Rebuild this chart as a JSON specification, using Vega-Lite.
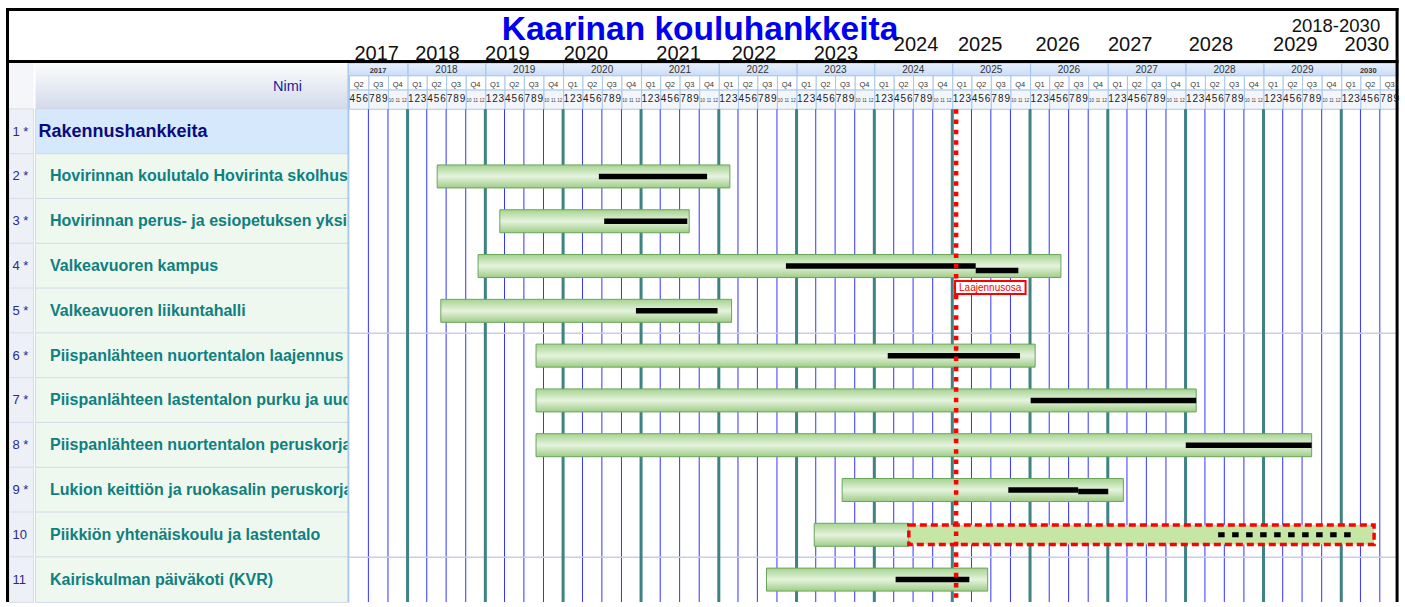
{
  "$schema": "https://vega.github.io/schema/vega-lite/v6.json",
  "background": "white",
  "padding": 0,
  "spacing": 0,
  "bounds": "flush",
  "config": {
    "view": {"stroke": null},
    "concat": {"spacing": 0},
    "axis": {"disable": true},
    "legend": {"disable": true},
    "font": "Liberation Sans",
    "text": {"font": "Liberation Sans"}
  },
  "datasets": {
    "one": [{}],
    "rows": [
      {"row": 1, "num": "1 *", "level": 0, "name": "Rakennushankkeita"},
      {"row": 2, "num": "2 *", "level": 1, "name": "Hovirinnan koulutalo Hovirinta skolhus"},
      {"row": 3, "num": "3 *", "level": 1, "name": "Hovirinnan perus- ja esiopetuksen yksikkö"},
      {"row": 4, "num": "4 *", "level": 1, "name": "Valkeavuoren kampus"},
      {"row": 5, "num": "5 *", "level": 1, "name": "Valkeavuoren liikuntahalli"},
      {"row": 6, "num": "6 *", "level": 1, "name": "Piispanlähteen nuortentalon laajennus"},
      {"row": 7, "num": "7 *", "level": 1, "name": "Piispanlähteen lastentalon purku ja uudisrakennus"},
      {"row": 8, "num": "8 *", "level": 1, "name": "Piispanlähteen nuortentalon peruskorjaus"},
      {"row": 9, "num": "9 *", "level": 1, "name": "Lukion keittiön ja ruokasalin peruskorjaus"},
      {"row": 10, "num": "10", "level": 1, "name": "Piikkiön yhtenäiskoulu ja lastentalo"},
      {"row": 11, "num": "11", "level": 1, "name": "Kairiskulman päiväkoti (KVR)"}
    ],
    "tasks": [
      {"row": 2, "kind": "plan", "start": "2018-05-20", "end": "2022-02-22"},
      {"row": 3, "kind": "plan", "start": "2019-03-10", "end": "2021-08-15"},
      {"row": 4, "kind": "plan", "start": "2018-11-28", "end": "2026-05-26"},
      {"row": 5, "kind": "plan", "start": "2018-06-06", "end": "2022-03-02"},
      {"row": 6, "kind": "plan", "start": "2019-08-27", "end": "2026-01-25"},
      {"row": 7, "kind": "plan", "start": "2019-08-27", "end": "2028-02-20"},
      {"row": 8, "kind": "plan", "start": "2019-08-27", "end": "2029-08-15"},
      {"row": 9, "kind": "plan", "start": "2023-08-03", "end": "2027-03-15"},
      {"row": 10, "kind": "plan", "start": "2023-03-25", "end": "2024-06-11"},
      {"row": 10, "kind": "extension", "start": "2024-06-11", "end": "2030-06-04"},
      {"row": 11, "kind": "plan", "start": "2022-08-13", "end": "2025-06-16"},
      {"row": 2, "kind": "progress", "start": "2020-06-17", "end": "2021-11-07"},
      {"row": 3, "kind": "progress", "start": "2020-07-12", "end": "2021-08-06"},
      {"row": 4, "kind": "progress", "start": "2022-11-12", "end": "2025-04-21"},
      {"row": 4, "kind": "progress2", "start": "2025-04-21", "end": "2025-11-07"},
      {"row": 5, "kind": "progress", "start": "2020-12-08", "end": "2021-12-26"},
      {"row": 6, "kind": "progress", "start": "2024-03-04", "end": "2025-11-15"},
      {"row": 7, "kind": "progress", "start": "2026-01-04", "end": "2028-02-20"},
      {"row": 8, "kind": "progress", "start": "2028-01-02", "end": "2029-08-15"},
      {"row": 9, "kind": "progress", "start": "2025-09-21", "end": "2026-08-15"},
      {"row": 9, "kind": "progress2", "start": "2026-08-15", "end": "2027-01-03"},
      {"row": 10, "kind": "dashed", "start": "2028-06-02", "end": "2030-02-20"},
      {"row": 11, "kind": "progress", "start": "2024-04-10", "end": "2025-03-22"}
    ],
    "notes": [
      {"row": 4, "label": "Laajennusosa", "start": "2025-01-14", "end": "2025-12-11"}
    ],
    "today": [{"date": "2025-01-19"}],
    "toplabels": [
      {"label": "2017", "date": "2017-08-09"},
      {"label": "2018", "date": "2018-05-21"},
      {"label": "2019", "date": "2019-04-14"},
      {"label": "2020", "date": "2020-04-17"},
      {"label": "2021", "date": "2021-06-26"},
      {"label": "2022", "date": "2022-06-15"},
      {"label": "2023", "date": "2023-07-05"},
      {"label": "2024", "date": "2024-07-15"},
      {"label": "2025", "date": "2025-05-12"},
      {"label": "2026", "date": "2026-05-11"},
      {"label": "2027", "date": "2027-04-16"},
      {"label": "2028", "date": "2028-04-29"},
      {"label": "2029", "date": "2029-05-30"},
      {"label": "2030", "date": "2030-05-01"}
    ],
    "months": [
      {"m": "2017-04-01"}, {"m": "2017-05-01"}, {"m": "2017-06-01"}, {"m": "2017-07-01"}, {"m": "2017-08-01"}, {"m": "2017-09-01"}, {"m": "2017-10-01"}, {"m": "2017-11-01"}, {"m": "2017-12-01"},
      {"m": "2018-01-01"}, {"m": "2018-02-01"}, {"m": "2018-03-01"}, {"m": "2018-04-01"}, {"m": "2018-05-01"}, {"m": "2018-06-01"}, {"m": "2018-07-01"}, {"m": "2018-08-01"}, {"m": "2018-09-01"}, {"m": "2018-10-01"}, {"m": "2018-11-01"}, {"m": "2018-12-01"},
      {"m": "2019-01-01"}, {"m": "2019-02-01"}, {"m": "2019-03-01"}, {"m": "2019-04-01"}, {"m": "2019-05-01"}, {"m": "2019-06-01"}, {"m": "2019-07-01"}, {"m": "2019-08-01"}, {"m": "2019-09-01"}, {"m": "2019-10-01"}, {"m": "2019-11-01"}, {"m": "2019-12-01"},
      {"m": "2020-01-01"}, {"m": "2020-02-01"}, {"m": "2020-03-01"}, {"m": "2020-04-01"}, {"m": "2020-05-01"}, {"m": "2020-06-01"}, {"m": "2020-07-01"}, {"m": "2020-08-01"}, {"m": "2020-09-01"}, {"m": "2020-10-01"}, {"m": "2020-11-01"}, {"m": "2020-12-01"},
      {"m": "2021-01-01"}, {"m": "2021-02-01"}, {"m": "2021-03-01"}, {"m": "2021-04-01"}, {"m": "2021-05-01"}, {"m": "2021-06-01"}, {"m": "2021-07-01"}, {"m": "2021-08-01"}, {"m": "2021-09-01"}, {"m": "2021-10-01"}, {"m": "2021-11-01"}, {"m": "2021-12-01"},
      {"m": "2022-01-01"}, {"m": "2022-02-01"}, {"m": "2022-03-01"}, {"m": "2022-04-01"}, {"m": "2022-05-01"}, {"m": "2022-06-01"}, {"m": "2022-07-01"}, {"m": "2022-08-01"}, {"m": "2022-09-01"}, {"m": "2022-10-01"}, {"m": "2022-11-01"}, {"m": "2022-12-01"},
      {"m": "2023-01-01"}, {"m": "2023-02-01"}, {"m": "2023-03-01"}, {"m": "2023-04-01"}, {"m": "2023-05-01"}, {"m": "2023-06-01"}, {"m": "2023-07-01"}, {"m": "2023-08-01"}, {"m": "2023-09-01"}, {"m": "2023-10-01"}, {"m": "2023-11-01"}, {"m": "2023-12-01"},
      {"m": "2024-01-01"}, {"m": "2024-02-01"}, {"m": "2024-03-01"}, {"m": "2024-04-01"}, {"m": "2024-05-01"}, {"m": "2024-06-01"}, {"m": "2024-07-01"}, {"m": "2024-08-01"}, {"m": "2024-09-01"}, {"m": "2024-10-01"}, {"m": "2024-11-01"}, {"m": "2024-12-01"},
      {"m": "2025-01-01"}, {"m": "2025-02-01"}, {"m": "2025-03-01"}, {"m": "2025-04-01"}, {"m": "2025-05-01"}, {"m": "2025-06-01"}, {"m": "2025-07-01"}, {"m": "2025-08-01"}, {"m": "2025-09-01"}, {"m": "2025-10-01"}, {"m": "2025-11-01"}, {"m": "2025-12-01"},
      {"m": "2026-01-01"}, {"m": "2026-02-01"}, {"m": "2026-03-01"}, {"m": "2026-04-01"}, {"m": "2026-05-01"}, {"m": "2026-06-01"}, {"m": "2026-07-01"}, {"m": "2026-08-01"}, {"m": "2026-09-01"}, {"m": "2026-10-01"}, {"m": "2026-11-01"}, {"m": "2026-12-01"},
      {"m": "2027-01-01"}, {"m": "2027-02-01"}, {"m": "2027-03-01"}, {"m": "2027-04-01"}, {"m": "2027-05-01"}, {"m": "2027-06-01"}, {"m": "2027-07-01"}, {"m": "2027-08-01"}, {"m": "2027-09-01"}, {"m": "2027-10-01"}, {"m": "2027-11-01"}, {"m": "2027-12-01"},
      {"m": "2028-01-01"}, {"m": "2028-02-01"}, {"m": "2028-03-01"}, {"m": "2028-04-01"}, {"m": "2028-05-01"}, {"m": "2028-06-01"}, {"m": "2028-07-01"}, {"m": "2028-08-01"}, {"m": "2028-09-01"}, {"m": "2028-10-01"}, {"m": "2028-11-01"}, {"m": "2028-12-01"},
      {"m": "2029-01-01"}, {"m": "2029-02-01"}, {"m": "2029-03-01"}, {"m": "2029-04-01"}, {"m": "2029-05-01"}, {"m": "2029-06-01"}, {"m": "2029-07-01"}, {"m": "2029-08-01"}, {"m": "2029-09-01"}, {"m": "2029-10-01"}, {"m": "2029-11-01"}, {"m": "2029-12-01"},
      {"m": "2030-01-01"}, {"m": "2030-02-01"}, {"m": "2030-03-01"}, {"m": "2030-04-01"}, {"m": "2030-05-01"}, {"m": "2030-06-01"}, {"m": "2030-07-01"}, {"m": "2030-08-01"}, {"m": "2030-09-01"}
    ]
  },
  "hconcat": [
    {
      "width": 349,
      "height": 607,
      "layer": [
        {
          "data": {"name": "one"},
          "mark": {"type": "rect", "fill": "#f4f6fa"},
          "encoding": {
            "x": {"datum": 9, "type": "quantitative", "scale": {"domain": [0, 349], "nice": false, "zero": false}, "axis": null},
            "x2": {"datum": 33.5},
            "y": {"datum": -0.5319, "type": "quantitative", "scale": {"domain": [-1.8274, 11.5], "reverse": true, "nice": false, "zero": false}, "axis": null},
            "y2": {"datum": 0.5}
          }
        },
        {
          "data": {"name": "one"},
          "mark": {"type": "rect", "fill": {"gradient": "linear", "x1": 0, "y1": 0, "x2": 0, "y2": 1, "stops": [{"offset": 0, "color": "#fcfdfe"}, {"offset": 1, "color": "#d2d9e8"}]}},
          "encoding": {"x": {"datum": 35.5}, "x2": {"datum": 349}, "y": {"datum": -0.5319}, "y2": {"datum": 0.5}}
        },
        {
          "data": {"name": "one"},
          "mark": {"type": "text", "text": "Nimi", "fontSize": 14.5, "color": "#1c1c9c", "align": "center", "baseline": "alphabetic"},
          "encoding": {"x": {"datum": 287.5}, "y": {"datum": 0.0894}}
        },
        {
          "data": {"name": "rows"},
          "mark": {"type": "bar", "orient": "horizontal", "height": 45.55, "fill": "#edf0f7", "stroke": "#d9dcea", "strokeWidth": 1},
          "encoding": {"x": {"datum": 9}, "x2": {"datum": 33.5}, "y": {"field": "row", "type": "quantitative"}}
        },
        {
          "data": {"name": "rows"},
          "mark": {"type": "bar", "orient": "horizontal", "height": 45.55, "stroke": "#d4d8ea", "strokeWidth": 1},
          "encoding": {
            "x": {"datum": 35.5},
            "x2": {"datum": 349},
            "y": {"field": "row", "type": "quantitative"},
            "fill": {"condition": {"test": "datum.level == 0", "value": "#d6e9fc"}, "value": "#eef8ee"}
          }
        },
        {
          "data": {"name": "rows"},
          "mark": {"type": "text", "align": "left", "baseline": "middle", "fontSize": 13, "color": "#2a2a8c"},
          "encoding": {"x": {"datum": 12.5}, "y": {"field": "row", "type": "quantitative"}, "text": {"field": "num"}}
        },
        {
          "data": {"name": "rows"},
          "transform": [{"filter": "datum.level == 1"}],
          "mark": {"type": "text", "align": "left", "baseline": "middle", "fontSize": 16, "fontWeight": "bold", "color": "#0f7f7f", "clip": true},
          "encoding": {"x": {"datum": 50}, "y": {"field": "row", "type": "quantitative"}, "text": {"field": "name"}}
        },
        {
          "data": {"name": "rows"},
          "transform": [{"filter": "datum.level == 0"}],
          "mark": {"type": "text", "align": "left", "baseline": "middle", "fontSize": 18, "fontWeight": "bold", "color": "#0b0b7e", "clip": true},
          "encoding": {"x": {"datum": 38.5}, "y": {"field": "row", "type": "quantitative"}, "text": {"field": "name"}}
        },
        {
          "data": {"name": "one"},
          "mark": {"type": "rule", "color": "#a6c8ef", "strokeWidth": 1.5},
          "encoding": {"x": {"datum": 348.2}, "y": {"datum": -0.5319}, "y2": {"datum": 11.5}}
        },
        {
          "data": {"name": "one"},
          "mark": {"type": "rule", "color": "#000000", "strokeWidth": 3},
          "encoding": {"x": {"datum": 7.5}, "y": {"datum": -1.7615}, "y2": {"datum": 11.5}}
        },
        {
          "data": {"name": "one"},
          "mark": {"type": "rule", "color": "#000000", "strokeWidth": 3},
          "encoding": {"x": {"datum": 6}, "x2": {"datum": 349}, "y": {"datum": -1.7286}}
        },
        {
          "data": {"name": "one"},
          "mark": {"type": "rule", "color": "#000000", "strokeWidth": 3},
          "encoding": {"x": {"datum": 6}, "x2": {"datum": 349}, "y": {"datum": -0.5649}}
        }
      ]
    },
    {
      "width": 1050,
      "height": 607,
      "layer": [
        {
          "data": {"name": "months"},
          "transform": [{"filter": "utcmonth(toDate(datum.m)) == 0 || (utcyear(toDate(datum.m)) == 2017 && utcmonth(toDate(datum.m)) == 3)"}],
          "mark": {"type": "rect", "clip": true, "stroke": "#a3c4ee", "strokeWidth": 1, "fill": {"gradient": "linear", "x1": 0, "y1": 0, "x2": 0, "y2": 1, "stops": [{"offset": 0, "color": "#e8f1fd"}, {"offset": 1, "color": "#cadcf6"}]}},
          "encoding": {
            "x": {"field": "m", "timeUnit": "utcyear", "type": "temporal", "scale": {"type": "utc", "domain": [{"year": 2017, "month": 4, "date": 1, "utc": true}, {"year": 2030, "month": 9, "date": 29, "utc": true}], "nice": false}, "axis": null},
            "y": {"datum": -0.5319, "type": "quantitative", "scale": {"domain": [-1.8274, 11.5], "reverse": true, "nice": false, "zero": false}, "axis": null},
            "y2": {"datum": -0.2465}
          }
        },
        {
          "data": {"name": "months"},
          "transform": [{"filter": "utcmonth(toDate(datum.m)) % 3 == 0"}],
          "mark": {"type": "rect", "clip": true, "stroke": "#a8c8ee", "strokeWidth": 1, "fill": "#ffffff"},
          "encoding": {"x": {"field": "m", "timeUnit": "utcyearquarter", "type": "temporal"}, "y": {"datum": -0.2465}, "y2": {"datum": 0.0719}}
        },
        {
          "data": {"name": "months"},
          "transform": [{"filter": "utcmonth(toDate(datum.m)) % 3 == 0"}],
          "mark": {"type": "rect", "clip": true, "stroke": "#a8c8ee", "strokeWidth": 1, "fill": "#f2f5fa"},
          "encoding": {"x": {"field": "m", "timeUnit": "utcyearquarter", "type": "temporal"}, "y": {"datum": 0.0719}, "y2": {"datum": 0.5}}
        },
        {
          "data": {"name": "months"},
          "transform": [{"filter": "utcmonth(toDate(datum.m)) == 0 && utcyear(toDate(datum.m)) <= 2029"}],
          "mark": {"type": "text", "align": "center", "baseline": "alphabetic", "fontSize": 10, "color": "#333333", "clip": true},
          "encoding": {
            "x": {"field": "m", "timeUnit": "utcyear", "type": "temporal", "bandPosition": 0.5},
            "y": {"datum": -0.3014},
            "text": {"field": "m", "timeUnit": "utcyear", "type": "temporal"}
          }
        },
        {
          "data": {"name": "months"},
          "transform": [{"filter": "utcyear(toDate(datum.m)) == 2017 && utcmonth(toDate(datum.m)) == 3"}],
          "mark": {"type": "text", "align": "center", "baseline": "alphabetic", "fontSize": 7.5, "fontWeight": "bold", "color": "#333333", "dx": 29},
          "encoding": {"x": {"field": "m", "type": "temporal"}, "y": {"datum": -0.3014}, "text": {"field": "m", "timeUnit": "utcyear", "type": "temporal"}}
        },
        {
          "data": {"name": "months"},
          "transform": [{"filter": "utcyear(toDate(datum.m)) == 2030 && utcmonth(toDate(datum.m)) == 0"}],
          "mark": {"type": "text", "align": "center", "baseline": "alphabetic", "fontSize": 7.5, "fontWeight": "bold", "color": "#333333", "dx": 27},
          "encoding": {"x": {"field": "m", "type": "temporal"}, "y": {"datum": -0.3014}, "text": {"field": "m", "timeUnit": "utcyear", "type": "temporal"}}
        },
        {
          "data": {"name": "months"},
          "transform": [{"filter": "utcmonth(toDate(datum.m)) % 3 == 0"}],
          "mark": {"type": "text", "align": "center", "baseline": "alphabetic", "fontSize": 7.5, "color": "#333333", "clip": true},
          "encoding": {
            "x": {"field": "m", "timeUnit": "utcyearquarter", "type": "temporal", "bandPosition": 0.5},
            "y": {"datum": 0.0049},
            "text": {"field": "m", "timeUnit": "utcquarter", "type": "temporal"}
          }
        },
        {
          "data": {"name": "months"},
          "transform": [{"filter": "utcmonth(toDate(datum.m)) < 9"}],
          "mark": {"type": "text", "align": "center", "baseline": "alphabetic", "fontSize": 10, "color": "#222222", "clip": true},
          "encoding": {
            "x": {"field": "m", "timeUnit": "utcyearmonth", "type": "temporal", "bandPosition": 0.5},
            "y": {"datum": 0.3353},
            "text": {"field": "m", "timeUnit": "utcmonth", "type": "temporal", "format": "%-m"}
          }
        },
        {
          "data": {"name": "months"},
          "transform": [{"filter": "utcmonth(toDate(datum.m)) >= 9"}],
          "mark": {"type": "text", "align": "center", "baseline": "alphabetic", "fontSize": 4.5, "color": "#444444", "clip": true},
          "encoding": {
            "x": {"field": "m", "timeUnit": "utcyearmonth", "type": "temporal", "bandPosition": 0.5},
            "y": {"datum": 0.3353},
            "text": {"field": "m", "timeUnit": "utcmonth", "type": "temporal", "format": "%-m"}
          }
        },
        {
          "data": {"name": "months"},
          "transform": [{"filter": "utcmonth(toDate(datum.m)) % 3 == 0 && !(utcyear(toDate(datum.m)) == 2017 && utcmonth(toDate(datum.m)) == 3)"}],
          "mark": {"type": "rule", "color": "#3434ff", "strokeWidth": 1},
          "encoding": {"x": {"field": "m", "type": "temporal"}, "y": {"datum": 0.5}, "y2": {"datum": 11.5}}
        },
        {
          "data": {"name": "one"},
          "mark": {"type": "rule", "color": "#c9cde8", "strokeWidth": 1.5},
          "encoding": {"y": {"datum": 5.5}}
        },
        {
          "data": {"name": "one"},
          "mark": {"type": "rule", "color": "#c9cde8", "strokeWidth": 1.5},
          "encoding": {"y": {"datum": 10.5}}
        },
        {
          "data": {"name": "months"},
          "transform": [{"filter": "utcmonth(toDate(datum.m)) == 0"}],
          "mark": {"type": "rule", "color": "#3e8282", "strokeWidth": 3},
          "encoding": {"x": {"field": "m", "type": "temporal"}, "y": {"datum": 0.5}, "y2": {"datum": 11.5}}
        },
        {
          "data": {"name": "tasks"},
          "transform": [{"filter": "datum.kind == 'plan'"}],
          "mark": {"type": "bar", "orient": "horizontal", "height": 23, "stroke": "#6aa55c", "strokeWidth": 1, "fill": {"gradient": "linear", "x1": 0, "y1": 0, "x2": 0, "y2": 1, "stops": [{"offset": 0, "color": "#a6d391"}, {"offset": 0.5, "color": "#e6f3de"}, {"offset": 1, "color": "#9fcd88"}]}},
          "encoding": {"x": {"field": "start", "type": "temporal"}, "x2": {"field": "end"}, "y": {"field": "row", "type": "quantitative"}}
        },
        {
          "data": {"name": "tasks"},
          "transform": [{"filter": "datum.kind == 'extension'"}],
          "mark": {"type": "bar", "orient": "horizontal", "height": 19.5, "fill": "#c6e6a6", "stroke": "#ff0000", "strokeWidth": 3.5, "strokeDash": [7, 4]},
          "encoding": {"x": {"field": "start", "type": "temporal"}, "x2": {"field": "end"}, "y": {"field": "row", "type": "quantitative"}}
        },
        {
          "data": {"name": "tasks"},
          "transform": [{"filter": "datum.kind == 'progress'"}],
          "mark": {"type": "bar", "orient": "horizontal", "height": 5.5, "fill": "#000000"},
          "encoding": {"x": {"field": "start", "type": "temporal"}, "x2": {"field": "end"}, "y": {"field": "row", "type": "quantitative"}}
        },
        {
          "data": {"name": "tasks"},
          "transform": [{"filter": "datum.kind == 'progress2' && datum.row == 4"}],
          "mark": {"type": "bar", "orient": "horizontal", "height": 5.5, "fill": "#000000", "yOffset": 4.5},
          "encoding": {"x": {"field": "start", "type": "temporal"}, "x2": {"field": "end"}, "y": {"field": "row", "type": "quantitative"}}
        },
        {
          "data": {"name": "tasks"},
          "transform": [{"filter": "datum.kind == 'progress2' && datum.row == 9"}],
          "mark": {"type": "bar", "orient": "horizontal", "height": 5.5, "fill": "#000000", "yOffset": 1.5},
          "encoding": {"x": {"field": "start", "type": "temporal"}, "x2": {"field": "end"}, "y": {"field": "row", "type": "quantitative"}}
        },
        {
          "data": {"name": "tasks"},
          "transform": [{"filter": "datum.kind == 'dashed'"}],
          "mark": {"type": "rule", "color": "#000000", "strokeWidth": 5, "strokeDash": [6.5, 7.5], "strokeCap": "butt"},
          "encoding": {"x": {"field": "start", "type": "temporal"}, "x2": {"field": "end"}, "y": {"field": "row", "type": "quantitative"}}
        },
        {
          "data": {"name": "today"},
          "mark": {"type": "rule", "color": "#ff0000", "strokeWidth": 4.5, "strokeDash": [4.5, 5.8]},
          "encoding": {"x": {"field": "date", "type": "temporal"}, "y": {"datum": 0.5}, "y2": {"datum": 11.5}}
        },
        {
          "data": {"name": "notes"},
          "mark": {"type": "bar", "orient": "horizontal", "height": 13, "yOffset": 21.4, "fill": "#ffffff", "stroke": "#ff0000", "strokeWidth": 2},
          "encoding": {"x": {"field": "start", "type": "temporal"}, "x2": {"field": "end"}, "y": {"field": "row", "type": "quantitative"}}
        },
        {
          "data": {"name": "notes"},
          "mark": {"type": "text", "align": "left", "baseline": "alphabetic", "fontSize": 10, "color": "#ff0000", "dx": 4, "dy": 25.4},
          "encoding": {"x": {"field": "start", "type": "temporal"}, "y": {"field": "row", "type": "quantitative"}, "text": {"field": "label"}}
        },
        {
          "data": {"name": "one"},
          "mark": {"type": "text", "text": "Kaarinan kouluhankkeita", "align": "center", "baseline": "alphabetic", "fontSize": 33.5, "fontWeight": "bold", "color": "#0000f0"},
          "encoding": {"x": {"datum": {"year": 2021, "month": 10, "date": 5, "utc": true}, "type": "temporal"}, "y": {"datum": -1.0479}}
        },
        {
          "data": {"name": "one"},
          "mark": {"type": "text", "text": "2018-2030", "align": "center", "baseline": "alphabetic", "fontSize": 18.5, "color": "#111111"},
          "encoding": {"x": {"datum": {"year": 2029, "month": 12, "date": 7, "utc": true}, "type": "temporal"}, "y": {"datum": -1.2345}}
        },
        {
          "data": {"name": "toplabels"},
          "transform": [{"filter": "toNumber(datum.label) < 2024"}],
          "mark": {"type": "text", "align": "center", "baseline": "alphabetic", "fontSize": 20, "color": "#111111"},
          "encoding": {"x": {"field": "date", "type": "temporal"}, "y": {"datum": -0.6088}, "text": {"field": "label"}}
        },
        {
          "data": {"name": "toplabels"},
          "transform": [{"filter": "toNumber(datum.label) >= 2024"}],
          "mark": {"type": "text", "align": "center", "baseline": "alphabetic", "fontSize": 20, "color": "#111111"},
          "encoding": {"x": {"field": "date", "type": "temporal"}, "y": {"datum": -0.7954}, "text": {"field": "label"}}
        },
        {
          "data": {"name": "one"},
          "mark": {"type": "rule", "color": "#000000", "strokeWidth": 3},
          "encoding": {"x": {"datum": {"year": 2017, "month": 4, "date": 1, "utc": true}, "type": "temporal"}, "x2": {"datum": {"year": 2030, "month": 9, "date": 27, "utc": true}}, "y": {"datum": -1.7286}}
        },
        {
          "data": {"name": "one"},
          "mark": {"type": "rule", "color": "#000000", "strokeWidth": 3},
          "encoding": {"x": {"datum": {"year": 2017, "month": 4, "date": 1, "utc": true}, "type": "temporal"}, "x2": {"datum": {"year": 2030, "month": 9, "date": 27, "utc": true}}, "y": {"datum": -0.5649}}
        },
        {
          "data": {"name": "one"},
          "mark": {"type": "rule", "color": "#000000", "strokeWidth": 3},
          "encoding": {"x": {"datum": {"year": 2030, "month": 9, "date": 20, "utc": true}, "type": "temporal"}, "y": {"datum": -1.7615}, "y2": {"datum": 11.5}}
        }
      ]
    }
  ]
}
